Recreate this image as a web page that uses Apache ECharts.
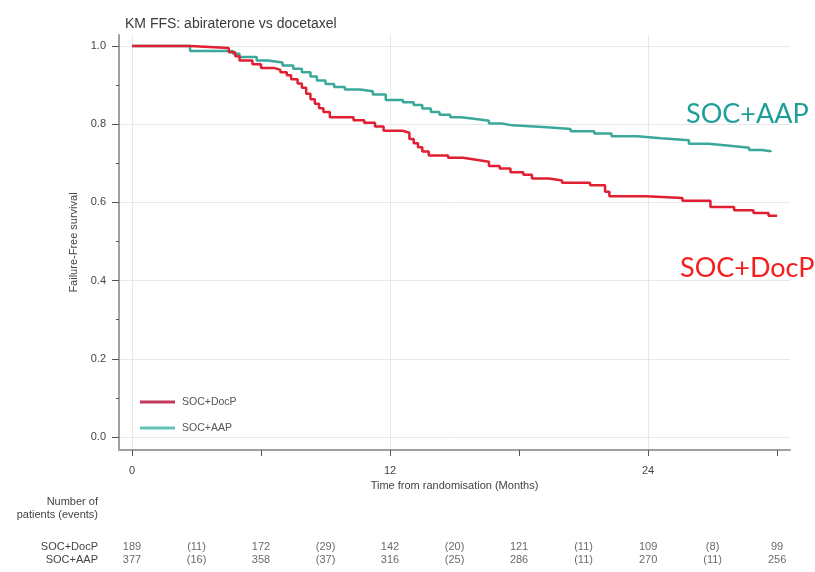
<!DOCTYPE html>
<html>
<head>
<meta charset="utf-8">
<title>KM FFS: abiraterone vs docetaxel</title>
<script src="https://cdn.jsdelivr.net/npm/echarts@6/dist/echarts.min.js"></script>
<style>
  html, body { margin: 0; padding: 0; background: #ffffff; }
  #chart { width: 815px; height: 572px; }
</style>
</head>
<body>
<div id="chart"></div>
<script>
// Kaplan-Meier failure-free survival, step points (months, survival)
const docpTime = [0, 2.7, 4.5, 4.8, 5.0, 5.6, 6.0, 6.6, 6.9, 7.2, 7.4, 7.7, 7.9, 8.1, 8.3, 8.5, 8.7, 8.9, 9.2, 10.3, 10.8, 11.3, 11.7, 12.6, 12.9, 13.1, 13.3, 13.5, 13.8, 14.7, 15.4, 16.0, 16.6, 17.1, 17.6, 18.2, 18.6, 19.4, 20.0, 21.3, 22.0, 22.2, 23.9, 25.6, 26.9, 28.0, 28.9, 29.6, 30.0];
const docpSurv = [1.0, 0.995, 0.984, 0.974, 0.963, 0.953, 0.944, 0.939, 0.933, 0.925, 0.915, 0.904, 0.893, 0.878, 0.864, 0.852, 0.841, 0.831, 0.818, 0.81, 0.804, 0.794, 0.783, 0.778, 0.762, 0.751, 0.741, 0.73, 0.72, 0.714, 0.709, 0.704, 0.693, 0.687, 0.677, 0.671, 0.661, 0.656, 0.65, 0.644, 0.627, 0.616, 0.611, 0.604, 0.588, 0.58, 0.573, 0.566, 0.566];

const aapTime = [0, 2.7, 4.7, 5.0, 5.8, 6.3, 7.0, 7.5, 7.9, 8.3, 8.6, 9.0, 9.4, 9.9, 10.6, 11.2, 11.8, 12.6, 13.1, 13.5, 13.9, 14.3, 14.8, 15.3, 16.0, 16.6, 17.2, 17.7, 19.3, 20.4, 21.5, 22.3, 23.5, 24.6, 25.9, 26.8, 27.8, 28.7, 29.3, 29.7];
const aapSurv = [1.0, 0.987, 0.98, 0.972, 0.963, 0.958, 0.95, 0.942, 0.933, 0.922, 0.912, 0.903, 0.895, 0.889, 0.884, 0.876, 0.862, 0.856, 0.849, 0.84, 0.831, 0.824, 0.818, 0.813, 0.809, 0.802, 0.797, 0.792, 0.788, 0.782, 0.776, 0.769, 0.764, 0.759, 0.75, 0.745, 0.74, 0.734, 0.731, 0.729];

// Axis ticks
const xTicks = [0, 6, 12, 18, 24, 30];
const xLabels = [0, 12, 24];
const yTicks = [0, 0.2, 0.4, 0.6, 0.8, 1.0];
const yMinorTicks = [0.1, 0.3, 0.5, 0.7, 0.9];

// Number at risk table
const armNames = ['SOC+DocP', 'SOC+AAP'];
const riskMonths = [0, 6, 12, 18, 24, 30];
const eventMonths = [3, 9, 15, 21, 27];
const docpAtRisk = [189, 172, 142, 121, 109, 99];
const docpEvents = [11, 29, 20, 11, 8];
const aapAtRisk = [377, 358, 316, 286, 270, 256];
const aapEvents = [16, 37, 25, 11, 11];

const FONT = '"Liberation Sans", Arial, sans-serif';
const X_MIN = -0.605, X_MAX = 30.6;
const Y_MIN = -0.0332, Y_MAX = 1.0281;

const pairs = (xs, ys) => xs.map((x, i) => [x, ys[i]]);

function tableRow(arm, atRisk, events) {
  const cells = [];
  riskMonths.forEach((m, i) => cells.push([m, arm, String(atRisk[i])]));
  eventMonths.forEach((m, i) => cells.push([m, arm, '(' + events[i] + ')']));
  return cells;
}
const tableCells = tableRow(armNames[0], docpAtRisk, docpEvents)
  .concat(tableRow(armNames[1], aapAtRisk, aapEvents));

const chart = echarts.init(document.getElementById('chart'), null, { renderer: 'canvas' });

chart.setOption({
  backgroundColor: '#ffffff',
  animation: false,
  textStyle: { fontFamily: FONT },
  title: {
    text: 'KM FFS: abiraterone vs docetaxel',
    left: 120, top: 12,
    textStyle: { fontFamily: FONT, fontSize: 14, fontWeight: 'normal', color: '#3a3a3a' }
  },
  legend: {
    left: 135, top: 390, orient: 'vertical',
    icon: 'rect', itemWidth: 35, itemHeight: 3, itemGap: 12,
    textStyle: { fontFamily: FONT, fontSize: 10.5, color: '#555', lineHeight: 14, padding: [0, 0, 0, 2] },
    data: [
      { name: 'SOC+DocP', itemStyle: { color: '#c23a5a' } },
      { name: 'SOC+AAP', itemStyle: { color: '#63c2b4' } }
    ]
  },
  grid: [
    { left: 119, right: 25, top: 35, bottom: 122 },
    { left: 119, right: 25, top: 540, height: 26 }
  ],
  xAxis: [
    {
      type: 'value', gridIndex: 0, min: X_MIN, max: X_MAX,
      name: 'Time from randomisation (Months)',
      nameLocation: 'middle', nameGap: 29,
      nameTextStyle: { fontFamily: FONT, fontSize: 11, color: '#444' },
      axisLine: { show: true, onZero: false, lineStyle: { color: '#a0a0a0', width: 2 } },
      axisTick: { show: true, customValues: xTicks, length: 6, lineStyle: { color: '#555' } },
      axisLabel: { customValues: xLabels, margin: 15, fontSize: 11, color: '#444', fontFamily: FONT },
      splitLine: { show: false }
    },
    {
      // vertical reference lines at 0, 12 and 24 months
      type: 'value', gridIndex: 0, min: X_MIN, max: X_MAX, position: 'top',
      axisLine: { show: false, onZero: false },
      axisTick: { show: false, customValues: xLabels },
      axisLabel: { show: false },
      splitLine: { show: true, lineStyle: { color: '#e8e8e8', width: 1 } }
    },
    {
      type: 'value', gridIndex: 1, min: X_MIN, max: X_MAX, show: false
    }
  ],
  yAxis: [
    {
      type: 'value', gridIndex: 0, min: Y_MIN, max: Y_MAX, position: 'left',
      name: 'Failure-Free survival',
      nameLocation: 'middle', nameGap: 32,
      nameTextStyle: { fontFamily: FONT, fontSize: 11, color: '#444' },
      axisLine: { show: true, onZero: false, lineStyle: { color: '#a0a0a0', width: 2 } },
      axisTick: { show: true, customValues: yTicks, length: 7, lineStyle: { color: '#555' } },
      axisLabel: { customValues: yTicks, margin: 13, fontSize: 11, color: '#444', fontFamily: FONT,
                   formatter: v => v.toFixed(1) },
      splitLine: { show: true, lineStyle: { color: '#e8e8e8', width: 1 } }
    },
    {
      // minor ticks between the labelled values
      type: 'value', gridIndex: 0, min: Y_MIN, max: Y_MAX, position: 'left',
      axisLine: { show: false, onZero: false },
      axisTick: { show: true, customValues: yMinorTicks, length: 3, lineStyle: { color: '#555' } },
      axisLabel: { show: false },
      splitLine: { show: false }
    },
    {
      type: 'category', gridIndex: 1, data: armNames, inverse: true,
      axisLine: { show: false }, axisTick: { show: false },
      axisLabel: { interval: 0, margin: 21, fontSize: 11, color: '#444', fontFamily: FONT },
      splitLine: { show: false }
    }
  ],
  graphic: [
    { type: 'text', x: 98, y: 502,
      style: { text: 'Number of', textAlign: 'right', textVerticalAlign: 'middle',
               fontSize: 11, fontFamily: FONT, fill: '#444' } },
    { type: 'text', x: 98, y: 515,
      style: { text: 'patients (events)', textAlign: 'right', textVerticalAlign: 'middle',
               fontSize: 11, fontFamily: FONT, fill: '#444' } },
    { type: 'text', x: 686, y: 114,
      style: { text: 'SOC+AAP', textAlign: 'left', textVerticalAlign: 'middle',
               fontSize: 27, fontFamily: 'Lato, "Open Sans", sans-serif', fill: '#1f9e9a' } },
    { type: 'text', x: 680, y: 268,
      style: { text: 'SOC+DocP', textAlign: 'left', textVerticalAlign: 'middle',
               fontSize: 27, fontFamily: 'Lato, "Open Sans", sans-serif', fill: '#f41e1e' } }
  ],
  series: [
    {
      name: 'SOC+DocP', type: 'line', step: 'end',
      xAxisIndex: 0, yAxisIndex: 0,
      data: pairs(docpTime, docpSurv),
      showSymbol: false, symbol: 'none',
      color: '#e11f32',
      lineStyle: { width: 2.5, color: '#e11f32' },
      z: 3
    },
    {
      name: 'SOC+AAP', type: 'line', step: 'end',
      xAxisIndex: 0, yAxisIndex: 0,
      data: pairs(aapTime, aapSurv),
      showSymbol: false, symbol: 'none',
      color: '#3aa89b',
      lineStyle: { width: 2.5, color: '#3aa89b' },
      z: 2
    },
    {
      name: 'at risk', type: 'scatter',
      xAxisIndex: 2, yAxisIndex: 2,
      data: tableCells, symbolSize: 0, silent: true,
      label: {
        show: true, position: 'inside',
        formatter: p => p.value[2],
        fontSize: 11, fontFamily: FONT, color: '#444'
      }
    }
  ]
});
</script>
</body>
</html>
